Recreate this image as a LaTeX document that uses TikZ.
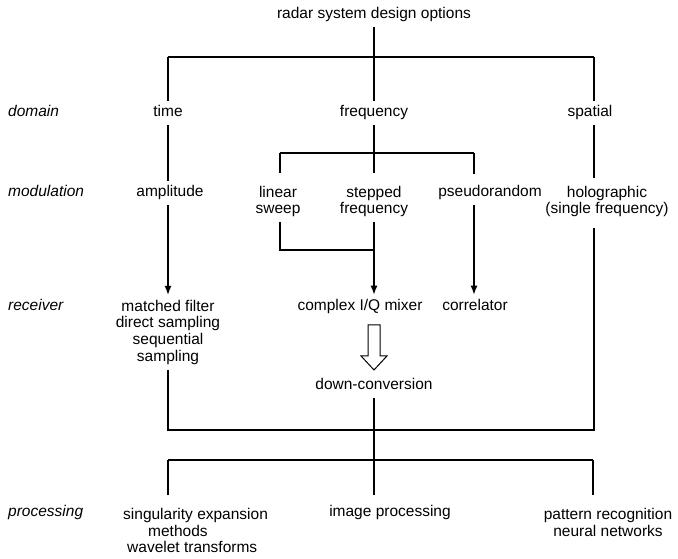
\documentclass[tikz,border=0pt]{standalone}
\usepackage{fontspec}
\setmainfont{Liberation Sans}
\usetikzlibrary{arrows.meta}
\begin{document}
\begin{tikzpicture}[x=1pt,y=-1pt,
  txt/.style={font=\fontsize{15.5}{16.7}\selectfont, align=center, inner xsep=0pt, inner ysep=5pt, text height=11pt, text depth=3.5pt},
  txtm/.style={font=\fontsize{15.5}{16.7}\selectfont, align=center, inner xsep=0pt, inner ysep=5pt, anchor=north},
  txtp/.style={font=\fontsize{15.5}{16.2}\selectfont, inner xsep=0pt, inner ysep=5pt, anchor=north},
  lab/.style={font=\fontsize{15.5}{16.7}\selectfont\itshape, inner sep=0pt, text height=11pt, text depth=3.5pt, anchor=west},
  conn/.style={line width=1.1pt},
  arr/.style={conn, -{Latex[length=9pt,width=7pt]}},
]
\useasboundingbox (0,0) rectangle (678,558);

% row labels
\node[lab] (ldom) at (8,113) {domain};
\node[lab] (lmod) at (8,193) {modulation};
\node[lab] (lrec) at (8,307) {receiver};
\node[lab] (lpro) at (8,513) {processing};

% nodes
\node[txt] (title) at (374,15) {radar system design options};
\node[txt] (time) at (168,113) {time};
\node[txt] (freq) at (374,113) {frequency};
\node[txt] (spat) at (590,113) {spatial};

\node[txt] (amp) at (170,193) {amplitude};
\node[txtm] (lin) at (278,180.75) {linear\\sweep};
\node[txtm] (step) at (374,180.75) {stepped\\frequency};
\node[txt] (pseudo) at (490,193) {pseudorandom};
\node[txtm] (holo) at (607,180.75) {holographic\\(single frequency)};

\node[txtm] (mf) at (168,294.75) {matched filter\\direct sampling\\sequential\\sampling};
\node[txt] (mix) at (360,307) {complex I/Q mixer};
\node[txt] (corr) at (475,307) {correlator};
\node[txt] (down) at (374,386) {down-conversion};

\node[txtp, anchor=north west, align=left] (sing) at (123,503.5) {singularity expansion\\\hspace*{25pt}methods\\\hspace*{4pt}wavelet transforms};
\node[txt] (imgp) at (390,513) {image processing};
\node[txtp, align=center] (pat) at (608,503.5) {pattern recognition\\neural networks};

% junctions
\coordinate (t0) at (374,57);
\coordinate (tl) at (168,57);
\coordinate (tr) at (594,57);
\coordinate (m0) at (374,153);
\coordinate (ml) at (280,153);
\coordinate (mr) at (474,153);
\coordinate (lj) at (374,250);
\coordinate (rl) at (168,430);
\coordinate (rr) at (594,430);
\coordinate (pc) at (374,460);
\coordinate (pl) at (168,460);
\coordinate (pr) at (593,460);

% top level
\draw[conn] (title) -- (t0);
\draw[conn] (tl) -- (tr);
\draw[conn] (tl) -- (time);
\draw[conn] (t0) -- (freq);
\draw[conn] (tr) -- (tr |- spat.north);

% domain to modulation
\draw[conn] (time.south -| tl) -- (tl |- amp.north);
\draw[conn] (freq) -- (m0);
\draw[conn] (ml) -- (mr);
\coordinate (linT) at ([yshift=8pt]lin.north);
\coordinate (stepT) at ([yshift=8pt]step.north);
\coordinate (pseT) at ([yshift=7pt]pseudo.north);
\coordinate (holT) at ([yshift=3pt]holo.north);
\draw[conn] (ml) -- (ml |- linT);
\draw[conn] (m0) -- (stepT);
\draw[conn] (mr) -- (mr |- pseT);
\draw[conn] (tr |- spat.south) -- (tr |- holT);

% modulation to receiver
\draw[arr] (tl |- amp.south) -- (tl |- mf.north);
\draw[conn] (ml |- lin.south) |- (lj);
\draw[arr] (step.south) -- (step.south |- mix.north);
\draw[arr] (mr |- pseudo.south) -- (mr |- corr.north);

% block arrow mixer -> down-conversion
\coordinate (ba) at (mix.south -| down.north);
\draw[line width=1pt, fill=white] ([xshift=-6pt,yshift=-5.5pt]ba) -- ([xshift=6pt,yshift=-5.5pt]ba)
  -- ([xshift=6pt,yshift=-36.5pt]ba) -- ([xshift=13pt,yshift=-36.5pt]ba)
  -- ([yshift=-50.5pt]ba) -- ([xshift=-13pt,yshift=-36.5pt]ba)
  -- ([xshift=-6pt,yshift=-36.5pt]ba) -- cycle;

% receiver to processing
\coordinate (holB) at ([yshift=-6pt]holo.south);
\draw[conn] (rl |- mf.south) -- (rl) -- (rr) -- (tr |- holB);
\draw[conn] (down) -- (pc);
\draw[conn] (pl) -- (pr);
\coordinate (singT) at ([yshift=8.5pt]sing.north);
\coordinate (imgT) at ([yshift=5.5pt]imgp.north);
\coordinate (patT) at ([yshift=8.5pt]pat.north);
\draw[conn] (pl) -- (pl |- singT);
\draw[conn] (pc) -- (pc |- imgT);
\draw[conn] (pr) -- (pr |- patT);
\end{tikzpicture}
\end{document}
